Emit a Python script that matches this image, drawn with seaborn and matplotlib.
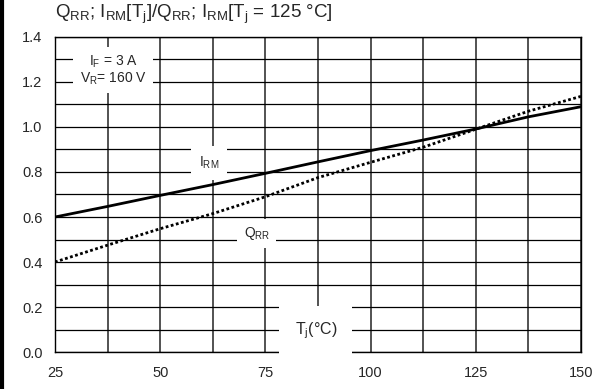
import numpy as np
import pandas as pd
import matplotlib
matplotlib.use("Agg")
import matplotlib.pyplot as plt
from matplotlib.lines import Line2D
import seaborn as sns

# values (normalised to Tj = 125 °C)
tj = [25, 37.5, 50, 62.5, 75, 87.5, 100, 112.5, 125, 137.5, 150]
i_rm = [0.60, 0.647, 0.696, 0.744, 0.794, 0.845, 0.895, 0.942, 0.991, 1.045, 1.09]
q_rr = [0.40, 0.475, 0.548, 0.615, 0.69, 0.775, 0.843, 0.91, 0.99, 1.07, 1.136]

x_major = [25, 50, 75, 100, 125, 150]
y_major = [0.0, 0.2, 0.4, 0.6, 0.8, 1.0, 1.2, 1.4]

sns.set_style("white")
plt.rcParams["font.family"] = ["Liberation Sans", "DejaVu Sans"]
plt.rcParams["mathtext.fontset"] = "custom"
plt.rcParams["mathtext.rm"] = "Liberation Sans"
plt.rcParams["mathtext.it"] = "Liberation Sans"

df = pd.DataFrame({"Tj": tj, "IRM": i_rm, "QRR": q_rr})

fig = plt.figure(figsize=(5.95, 3.89), dpi=100)
ax = fig.add_axes([0.0924, 0.095, 0.884, 0.810])

sns.lineplot(data=df, x="Tj", y="IRM", ax=ax, color="black", lw=2.0, zorder=3)
sns.lineplot(data=df, x="Tj", y="QRR", ax=ax, color="black", lw=2.0,
             dashes=False, zorder=3).lines[-1].set_dashes((1.0, 0.9))

ax.set_xlim(25, 150)
ax.set_ylim(0, 1.4)
ax.set_xticks(x_major)
ax.set_xticks(np.arange(37.5, 150, 25), minor=True)
ax.set_yticks(y_major)
ax.set_yticks(np.arange(0.1, 1.4, 0.2), minor=True)
ax.set_yticklabels([f"{v:.1f}" for v in y_major])
ax.tick_params(which="both", length=0, labelsize=10.5)
ax.tick_params(axis="y", pad=9)
ax.tick_params(axis="x", pad=10)
ax.set_axisbelow(True)
ax.grid(which="both", axis="x", color="#444444", lw=1.3)
ax.grid(which="both", axis="y", color="black", lw=0.9)
for s in ax.spines.values():
    s.set_color("black")
    s.set_linewidth(1.0)
ax.set_xlabel("")
ax.set_ylabel("")

sub = "$_\\mathregular{%s}$"
ax.text(38.8, 1.254, f"I{sub % 'F'} = 3 A\nV{sub % 'R'}= 160 V",
        ha="center", va="center", fontsize=10, linespacing=1.05, zorder=4,
        bbox=dict(facecolor="white", edgecolor="none", boxstyle="square,pad=0.45"))
ax.text(61.6, 0.84, f"I{sub % 'RM'}", ha="center", va="center",
        fontsize=10, zorder=4,
        bbox=dict(facecolor="white", edgecolor="none", boxstyle="square,pad=0.6"))
ax.text(73.0, 0.527, f"Q{sub % 'RR'}", ha="center", va="center",
        fontsize=10, zorder=4,
        bbox=dict(facecolor="white", edgecolor="none", boxstyle="square,pad=0.45"))
ax.text(87.0, 0.093, f"T{sub % 'j'}(°C)", ha="center", va="center",
        fontsize=11.5, zorder=4,
        bbox=dict(facecolor="white", edgecolor="none", boxstyle="square,pad=0.95"))

fig.text(0.092, 0.963,
         f"Q{sub % 'RR'}; I{sub % 'RM'}[T{sub % 'j'}]/Q{sub % 'RR'}; "
         f"I{sub % 'RM'}[T{sub % 'j'} = 125 °C]",
         ha="left", va="center", fontsize=13.5)

fig.add_artist(Line2D([0.003, 0.003], [0, 1], lw=3, color="black",
                      transform=fig.transFigure))

fig.savefig("out.png", dpi=100)
